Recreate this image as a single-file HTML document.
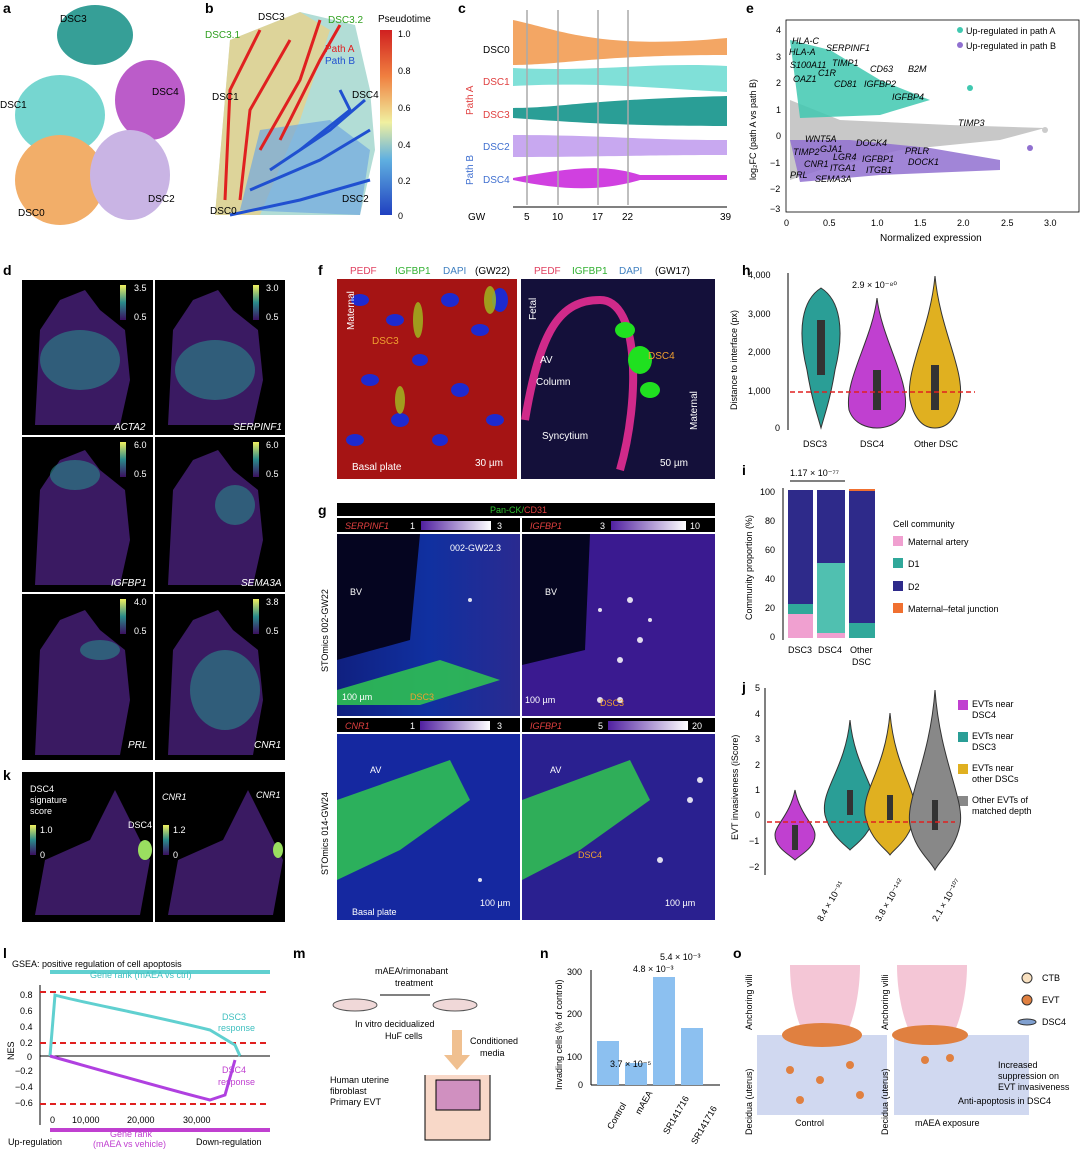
<!DOCTYPE html>
<html><head><meta charset="utf-8"><style>
body{margin:0;background:#fff;}
svg{display:block;font-family:"Liberation Sans",sans-serif;}
</style></head><body>
<svg width="1080" height="1150" viewBox="0 0 1080 1150" xmlns="http://www.w3.org/2000/svg">
<defs>
<linearGradient id="pt" x1="0" y1="1" x2="0" y2="0"><stop offset="0" stop-color="#2040c0"/><stop offset="0.3" stop-color="#60b0e0"/><stop offset="0.5" stop-color="#f0f0a0"/><stop offset="0.75" stop-color="#f08040"/><stop offset="1" stop-color="#d02020"/></linearGradient>
<linearGradient id="vir" x1="0" y1="1" x2="0" y2="0"><stop offset="0" stop-color="#3b1060"/><stop offset="0.5" stop-color="#2a8a8a"/><stop offset="1" stop-color="#f0f060"/></linearGradient>
<linearGradient id="pw" x1="0" x2="1"><stop offset="0" stop-color="#5020a0"/><stop offset="1" stop-color="#ffffff"/></linearGradient>
<linearGradient id="gs" x1="0" x2="1"><stop offset="0" stop-color="#102080"/><stop offset="0.5" stop-color="#1030a0"/><stop offset="1" stop-color="#2a2a90"/></linearGradient>
</defs>
<g font-weight="bold" font-size="14">
<text x="3" y="13">a</text><text x="205" y="13">b</text><text x="458" y="13">c</text><text x="746" y="13">e</text>
<text x="3" y="275">d</text><text x="318" y="275">f</text><text x="742" y="275">h</text>
<text x="318" y="515">g</text><text x="742" y="475">i</text><text x="742" y="692">j</text>
<text x="3" y="780">k</text><text x="3" y="958">l</text><text x="293" y="958">m</text><text x="540" y="958">n</text><text x="733" y="958">o</text>
</g>
<!-- panel a -->
<g opacity="0.85">
<ellipse cx="95" cy="35" rx="38" ry="30" fill="#138f86"/>
<ellipse cx="60" cy="115" rx="45" ry="40" fill="#5fd0c8"/>
<ellipse cx="150" cy="100" rx="35" ry="40" fill="#b040c0"/>
<ellipse cx="60" cy="180" rx="45" ry="45" fill="#f0a050"/>
<ellipse cx="130" cy="175" rx="40" ry="45" fill="#c0a8e0"/>
</g>
<g font-size="10"><text x="60" y="22">DSC3</text><text x="0" y="108">DSC1</text><text x="152" y="95">DSC4</text><text x="148" y="202">DSC2</text><text x="18" y="216">DSC0</text></g>
<!-- panel b -->
<path d="M215 215 L230 40 L300 12 L355 25 L370 90 L375 150 L360 215 Z" fill="#9fd4cc" opacity="0.8"/>
<path d="M215 215 L230 40 L300 12 L330 30 L300 120 L260 215 Z" fill="#f0d080" opacity="0.7"/>
<path d="M240 210 L260 130 L330 120 L370 150 L360 215 Z" fill="#70a8e0" opacity="0.7"/>
<g stroke="#e02020" stroke-width="3" fill="none"><path d="M225 200 L230 90 L260 30"/><path d="M240 200 L250 110 L290 40"/><path d="M260 150 L300 80 L320 20"/><path d="M280 140 L320 60 L340 25"/></g>
<g stroke="#2050d0" stroke-width="3" fill="none"><path d="M230 215 L300 200 L370 180"/><path d="M250 190 L320 160 L370 130"/><path d="M270 170 L330 130 L365 100"/><path d="M300 150 L350 110 L340 90"/></g>
<g font-size="10"><text x="258" y="20">DSC3</text><text x="205" y="38" fill="#30a020">DSC3.1</text><text x="328" y="23" fill="#30a020">DSC3.2</text><text x="325" y="52" fill="#e02020">Path A</text><text x="325" y="64" fill="#2050d0">Path B</text><text x="212" y="100">DSC1</text><text x="352" y="98">DSC4</text><text x="342" y="202">DSC2</text><text x="210" y="214">DSC0</text>
<text x="378" y="22">Pseudotime</text></g>
<rect x="380" y="30" width="12" height="185" fill="url(#pt)"/>
<g font-size="9"><text x="398" y="37">1.0</text><text x="398" y="74">0.8</text><text x="398" y="111">0.6</text><text x="398" y="148">0.4</text><text x="398" y="184">0.2</text><text x="398" y="219">0</text></g>
<!-- panel c -->
<g>
<path d="M513 20 C560 30 600 50 727 38 L727 55 C600 55 560 65 513 65 Z" fill="#f3a664"/>
<path d="M513 68 C600 72 650 62 727 66 L727 92 C650 88 600 82 513 86 Z" fill="#80e0d8"/>
<path d="M513 108 C560 108 580 100 727 96 L727 126 C620 126 570 122 513 118 Z" fill="#2a9e96"/>
<path d="M513 135 C600 135 640 140 727 140 L727 155 C640 155 600 157 513 157 Z" fill="#c8a8f0"/>
<path d="M513 178 C560 170 600 162 640 175 L727 175 L727 180 L640 180 C600 192 560 190 513 180 Z" fill="#d040e0"/>
</g>
<g stroke="#aaa" stroke-width="1.5"><line x1="527" y1="10" x2="527" y2="205"/><line x1="558" y1="10" x2="558" y2="205"/><line x1="598" y1="10" x2="598" y2="205"/><line x1="628" y1="10" x2="628" y2="205"/></g>
<line x1="513" y1="207" x2="727" y2="207" stroke="#000"/>
<g font-size="10"><text x="483" y="53">DSC0</text><text x="483" y="85" fill="#e04040">DSC1</text><text x="483" y="118" fill="#e04040">DSC3</text><text x="483" y="150" fill="#4070d0">DSC2</text><text x="483" y="183" fill="#4070d0">DSC4</text>
<text x="468" y="220">GW</text><text x="524" y="220">5</text><text x="552" y="220">10</text><text x="592" y="220">17</text><text x="622" y="220">22</text><text x="720" y="220">39</text>
<text transform="translate(473,115) rotate(-90)" fill="#e04040">Path A</text><text transform="translate(473,185) rotate(-90)" fill="#4070d0">Path B</text></g>
<!-- panel e -->
<rect x="786" y="20" width="293" height="192" fill="none" stroke="#000" stroke-width="0.8"/>
<path d="M790 100 L840 120 L950 125 L1045 128 L1000 140 L900 150 L820 170 L790 180 Z" fill="#c8c8c8"/>
<path d="M790 40 L830 50 L880 80 L930 100 L880 115 L800 118 Z" fill="#40c8b0" opacity="0.85"/>
<path d="M790 140 L850 140 L930 148 L1000 160 L1000 170 L880 175 L800 182 Z" fill="#9070d0" opacity="0.85"/>
<circle cx="970" cy="88" r="3" fill="#40c8b0"/><circle cx="1045" cy="130" r="3" fill="#ccc"/><circle cx="1030" cy="148" r="3" fill="#9070d0"/>
<g font-size="9" font-style="italic"><text x="792" y="44">HLA-C</text><text x="789" y="55">HLA-A</text><text x="826" y="51">SERPINF1</text><text x="790" y="68">S100A11</text><text x="832" y="66">TIMP1</text><text x="818" y="76">C1R</text><text x="870" y="72">CD63</text><text x="908" y="72">B2M</text><text x="793" y="82">OAZ1</text><text x="834" y="87">CD81</text><text x="864" y="87">IGFBP2</text><text x="892" y="100">IGFBP4</text><text x="958" y="126">TIMP3</text><text x="805" y="142">WNT5A</text><text x="856" y="146">DOCK4</text><text x="820" y="152">GJA1</text><text x="793" y="155">TIMP2</text><text x="833" y="160">LGR4</text><text x="862" y="162">IGFBP1</text><text x="905" y="154">PRLR</text><text x="908" y="165">DOCK1</text><text x="804" y="167">CNR1</text><text x="830" y="171">ITGA1</text><text x="866" y="173">ITGB1</text><text x="790" y="178">PRL</text><text x="815" y="182">SEMA3A</text></g>
<g font-size="9"><text x="776" y="33">4</text><text x="776" y="60">3</text><text x="776" y="86">2</text><text x="776" y="113">1</text><text x="776" y="139">0</text><text x="770" y="166">−1</text><text x="770" y="192">−2</text><text x="770" y="212">−3</text>
<text x="784" y="226">0</text><text x="823" y="226">0.5</text><text x="871" y="226">1.0</text><text x="914" y="226">1.5</text><text x="957" y="226">2.0</text><text x="1001" y="226">2.5</text><text x="1044" y="226">3.0</text>
<text x="880" y="241" font-size="10">Normalized expression</text>
<text transform="translate(756,180) rotate(-90)" font-size="9">log₂FC (path A vs path B)</text>
<circle cx="960" cy="30" r="3" fill="#40c8b0"/><text x="966" y="34">Up-regulated in path A</text>
<circle cx="960" cy="45" r="3" fill="#9070d0"/><text x="966" y="49">Up-regulated in path B</text></g>
<!-- panel d -->
<g>
<rect x="22" y="280" width="131" height="155" fill="#000"/><rect x="155" y="280" width="130" height="155" fill="#000"/>
<rect x="22" y="437" width="131" height="155" fill="#000"/><rect x="155" y="437" width="130" height="155" fill="#000"/>
<rect x="22" y="594" width="131" height="166" fill="#000"/><rect x="155" y="594" width="130" height="166" fill="#000"/>
<g fill="#3a1a62">
<path d="M35 425 L40 330 L60 300 L85 290 L100 310 L125 330 L130 380 L120 425 Z"/>
<path d="M168 425 L173 330 L193 300 L218 290 L233 310 L258 330 L263 380 L253 425 Z"/>
<path d="M35 585 L40 490 L60 460 L85 450 L100 470 L125 490 L130 540 L120 585 Z"/>
<path d="M168 585 L173 490 L193 460 L218 450 L233 470 L258 490 L263 540 L253 585 Z"/>
<path d="M35 755 L40 650 L60 620 L85 610 L100 630 L125 650 L130 700 L120 755 Z"/>
<path d="M168 755 L173 650 L193 620 L218 610 L233 630 L258 650 L263 700 L253 755 Z"/>
</g>
<g fill="#2a8a8a" opacity="0.6"><ellipse cx="80" cy="360" rx="40" ry="30"/><ellipse cx="215" cy="370" rx="40" ry="30"/><ellipse cx="75" cy="475" rx="25" ry="15"/><ellipse cx="235" cy="505" rx="20" ry="20"/><ellipse cx="100" cy="650" rx="20" ry="10"/><ellipse cx="225" cy="690" rx="35" ry="40"/></g>
<g><rect x="120" y="285" width="6" height="35" fill="url(#vir)"/><rect x="253" y="285" width="6" height="35" fill="url(#vir)"/><rect x="120" y="442" width="6" height="35" fill="url(#vir)"/><rect x="253" y="442" width="6" height="35" fill="url(#vir)"/><rect x="120" y="599" width="6" height="35" fill="url(#vir)"/><rect x="253" y="599" width="6" height="35" fill="url(#vir)"/></g>
<g fill="#fff" font-size="9"><text x="134" y="291">3.5</text><text x="134" y="320">0.5</text><text x="266" y="291">3.0</text><text x="266" y="320">0.5</text><text x="134" y="448">6.0</text><text x="134" y="477">0.5</text><text x="266" y="448">6.0</text><text x="266" y="477">0.5</text><text x="134" y="605">4.0</text><text x="134" y="634">0.5</text><text x="266" y="605">3.8</text><text x="266" y="634">0.5</text>
<g font-style="italic" font-size="10"><text x="114" y="430">ACTA2</text><text x="233" y="430">SERPINF1</text><text x="111" y="586">IGFBP1</text><text x="241" y="586">SEMA3A</text><text x="128" y="748">PRL</text><text x="254" y="748">CNR1</text></g></g>
</g>
<!-- panel k -->
<rect x="22" y="772" width="131" height="150" fill="#000"/><rect x="155" y="772" width="130" height="150" fill="#000"/>
<path d="M35 915 L45 860 L90 840 L115 790 L135 830 L150 860 L140 915 Z" fill="#3a1a62"/>
<path d="M168 915 L178 860 L223 840 L248 790 L268 830 L283 860 L273 915 Z" fill="#3a1a62"/>
<ellipse cx="145" cy="850" rx="7" ry="10" fill="#9adf60"/><ellipse cx="278" cy="850" rx="5" ry="8" fill="#9adf60"/>
<rect x="30" y="825" width="6" height="30" fill="url(#vir)"/><rect x="163" y="825" width="6" height="30" fill="url(#vir)"/>
<g fill="#fff" font-size="9"><text x="30" y="792">DSC4</text><text x="30" y="803">signature</text><text x="30" y="814">score</text><text x="40" y="833">1.0</text><text x="40" y="858">0</text><text x="128" y="828">DSC4</text><text x="162" y="800" font-style="italic">CNR1</text><text x="173" y="833">1.2</text><text x="173" y="858">0</text><text x="256" y="798" font-style="italic">CNR1</text></g>
<!-- panel f -->
<g font-size="10"><text x="350" y="274" fill="#e04060">PEDF</text><text x="395" y="274" fill="#30b030">IGFBP1</text><text x="443" y="274" fill="#4080c0">DAPI</text><text x="475" y="274">(GW22)</text>
<text x="534" y="274" fill="#e04060">PEDF</text><text x="572" y="274" fill="#30b030">IGFBP1</text><text x="619" y="274" fill="#4080c0">DAPI</text><text x="655" y="274">(GW17)</text></g>
<rect x="337" y="279" width="180" height="200" fill="#3a0808"/>
<g fill="#c01818" opacity="0.8"><rect x="337" y="279" width="180" height="200"/></g>
<g fill="#1e2ad0"><ellipse cx="360" cy="300" rx="9" ry="6"/><ellipse cx="395" cy="320" rx="9" ry="6"/><ellipse cx="450" cy="300" rx="9" ry="7"/><ellipse cx="480" cy="330" rx="9" ry="6"/><ellipse cx="370" cy="380" rx="9" ry="6"/><ellipse cx="420" cy="360" rx="8" ry="6"/><ellipse cx="460" cy="390" rx="9" ry="7"/><ellipse cx="495" cy="420" rx="9" ry="6"/><ellipse cx="400" cy="420" rx="9" ry="7"/><ellipse cx="440" cy="440" rx="8" ry="6"/><ellipse cx="500" cy="300" rx="8" ry="12"/><ellipse cx="355" cy="440" rx="9" ry="6"/></g>
<g fill="#a0c020" opacity="0.8"><ellipse cx="418" cy="320" rx="5" ry="18"/><ellipse cx="490" cy="300" rx="6" ry="14"/><ellipse cx="400" cy="400" rx="5" ry="14"/></g>
<rect x="521" y="279" width="194" height="200" fill="#14103a"/>
<path d="M525 420 C540 330 560 300 600 300 C640 300 640 400 620 470" fill="none" stroke="#d02a8a" stroke-width="8"/>
<g fill="#20e020"><ellipse cx="640" cy="360" rx="12" ry="14"/><ellipse cx="625" cy="330" rx="10" ry="8"/><ellipse cx="650" cy="390" rx="10" ry="8"/></g>
<g font-size="10" fill="#fff"><text x="352" y="470">Basal plate</text><text x="475" y="466">30 µm</text><text x="372" y="344" fill="#f0a030">DSC3</text><text x="540" y="363">AV</text><text x="536" y="385">Column</text><text x="542" y="439">Syncytium</text><text x="648" y="359" fill="#f0a030">DSC4</text><text x="660" y="466">50 µm</text>
<text transform="translate(354,330) rotate(-90)">Maternal</text><text transform="translate(536,320) rotate(-90)">Fetal</text><text transform="translate(697,430) rotate(-90)">Maternal</text></g>
<!-- panel g -->
<rect x="337" y="503" width="378" height="13" fill="#000"/>
<text x="490" y="513" font-size="9" fill="#30c030">Pan-CK/<tspan fill="#e04040">CD31</tspan></text>
<rect x="337" y="518" width="183" height="14" fill="#000"/><rect x="522" y="518" width="193" height="14" fill="#000"/>
<rect x="337" y="534" width="183" height="182" fill="url(#gs)"/><rect x="522" y="534" width="193" height="182" fill="#3a1a90"/>
<path d="M337 534 L420 534 L410 640 L337 660 Z" fill="#050520"/><path d="M522 534 L590 534 L585 650 L522 665 Z" fill="#050520"/>
<rect x="337" y="718" width="183" height="14" fill="#000"/><rect x="522" y="718" width="193" height="14" fill="#000"/>
<rect x="337" y="734" width="183" height="186" fill="#1528a0"/><rect x="522" y="734" width="193" height="186" fill="#2a2090"/>
<g fill="#30c850" opacity="0.85"><path d="M337 800 L450 760 L470 800 L400 850 L337 880 Z"/><path d="M522 800 L630 760 L650 800 L580 850 L522 880 Z"/><path d="M337 690 L440 660 L500 680 L420 705 L337 705 Z"/></g>
<g fill="#fff" opacity="0.85"><circle cx="470" cy="600" r="2"/><circle cx="600" cy="610" r="2"/><circle cx="630" cy="600" r="3"/><circle cx="640" cy="640" r="3"/><circle cx="620" cy="660" r="3"/><circle cx="650" cy="620" r="2"/><circle cx="600" cy="700" r="3"/><circle cx="620" cy="700" r="3"/><circle cx="690" cy="800" r="3"/><circle cx="700" cy="780" r="3"/><circle cx="660" cy="860" r="3"/><circle cx="480" cy="880" r="2"/></g>
<rect x="421" y="521" width="70" height="9" fill="url(#pw)"/><rect x="611" y="521" width="75" height="9" fill="url(#pw)"/><rect x="420" y="721" width="70" height="9" fill="url(#pw)"/><rect x="608" y="721" width="80" height="9" fill="url(#pw)"/>
<g font-size="9"><g fill="#e04040" font-style="italic"><text x="345" y="529">SERPINF1</text><text x="530" y="529">IGFBP1</text><text x="345" y="729">CNR1</text><text x="530" y="729">IGFBP1</text></g>
<g fill="#fff"><text x="410" y="529">1</text><text x="497" y="529">3</text><text x="600" y="529">3</text><text x="690" y="529">10</text><text x="410" y="729">1</text><text x="497" y="729">3</text><text x="598" y="729">5</text><text x="692" y="729">20</text>
<text x="450" y="551">002-GW22.3</text><text x="350" y="595">BV</text><text x="545" y="595">BV</text><text x="342" y="700">100 µm</text><text x="525" y="703">100 µm</text><text x="370" y="773">AV</text><text x="550" y="773">AV</text><text x="352" y="915">Basal plate</text><text x="480" y="906">100 µm</text><text x="665" y="906">100 µm</text></g>
<g fill="#f0a030"><text x="410" y="700">DSC3</text><text x="600" y="706">DSC3</text><text x="578" y="858">DSC4</text></g>
<text transform="translate(328,672) rotate(-90)">STOmics  002-GW22</text><text transform="translate(328,875) rotate(-90)">STOmics  014-GW24</text></g>
<!-- panel h -->
<line x1="788" y1="273" x2="788" y2="430" stroke="#000"/>
<g font-size="9"><text x="748" y="278">4,000</text><text x="748" y="317">3,000</text><text x="748" y="355">2,000</text><text x="748" y="394">1,000</text><text x="775" y="431">0</text><text x="803" y="447">DSC3</text><text x="860" y="447">DSC4</text><text x="914" y="447">Other DSC</text><text x="852" y="288">2.9 × 10⁻⁸⁰</text>
<text transform="translate(737,410) rotate(-90)">Distance to interface (px)</text></g>
<path d="M821 288 C840 300 845 330 835 370 C830 400 826 410 821 428 C816 410 812 400 807 370 C797 330 802 300 821 288Z" fill="#2a9e96" stroke="#333"/>
<path d="M877 298 C882 340 910 380 905 410 C900 425 885 428 877 428 C869 428 854 425 849 410 C844 380 872 340 877 298Z" fill="#c040d0" stroke="#333"/>
<path d="M935 276 C940 330 965 370 960 400 C955 422 945 428 935 428 C925 428 915 422 910 400 C905 370 930 330 935 276Z" fill="#e0b020" stroke="#333"/>
<g fill="#333"><rect x="817" y="320" width="8" height="55"/><rect x="873" y="370" width="8" height="40"/><rect x="931" y="365" width="8" height="45"/></g>
<line x1="790" y1="392" x2="975" y2="392" stroke="#e02020" stroke-dasharray="5,3" stroke-width="1.5"/>
<!-- panel i -->
<line x1="783" y1="488" x2="783" y2="640" stroke="#000"/>
<rect x="788" y="490" width="25" height="114" fill="#2e2a8a"/><rect x="788" y="604" width="25" height="10" fill="#30a89a"/><rect x="788" y="614" width="25" height="24" fill="#f0a0d0"/>
<rect x="817" y="490" width="28" height="73" fill="#2e2a8a"/><rect x="817" y="563" width="28" height="70" fill="#50c0b0"/><rect x="817" y="633" width="28" height="5" fill="#f0a0d0"/>
<rect x="849" y="491" width="26" height="132" fill="#2e2a8a"/><rect x="849" y="623" width="26" height="15" fill="#30a89a"/><rect x="849" y="489" width="26" height="2" fill="#f07030"/>
<line x1="790" y1="481" x2="845" y2="481" stroke="#000"/>
<g font-size="9"><text x="790" y="476">1.17 × 10⁻⁷⁷</text><text x="760" y="495">100</text><text x="765" y="524">80</text><text x="765" y="553">60</text><text x="765" y="582">40</text><text x="765" y="611">20</text><text x="770" y="640">0</text>
<text x="788" y="653">DSC3</text><text x="818" y="653">DSC4</text><text x="850" y="653">Other</text><text x="852" y="665">DSC</text>
<text transform="translate(752,620) rotate(-90)">Community proportion (%)</text>
<text x="893" y="527">Cell community</text><rect x="893" y="536" width="10" height="10" fill="#f0a0d0"/><text x="908" y="545">Maternal artery</text><rect x="893" y="558" width="10" height="10" fill="#30a89a"/><text x="908" y="567">D1</text><rect x="893" y="581" width="10" height="10" fill="#2e2a8a"/><text x="908" y="590">D2</text><rect x="893" y="603" width="10" height="10" fill="#f07030"/><text x="908" y="612">Maternal–fetal junction</text></g>
<!-- panel j -->
<line x1="765" y1="688" x2="765" y2="875" stroke="#000"/>
<g font-size="9"><text x="755" y="691">5</text><text x="755" y="717">4</text><text x="755" y="742">3</text><text x="755" y="768">2</text><text x="755" y="793">1</text><text x="755" y="818">0</text><text x="749" y="844">−1</text><text x="749" y="870">−2</text>
<text transform="translate(738,840) rotate(-90)">EVT invasiveness (iScore)</text>
<text transform="translate(822,922) rotate(-60)">8.4 × 10⁻⁹¹</text><text transform="translate(880,922) rotate(-60)">3.8 × 10⁻¹⁴²</text><text transform="translate(937,922) rotate(-60)">2.1 × 10⁻¹⁰⁷</text>
<rect x="958" y="700" width="10" height="10" fill="#c040d0"/><text x="972" y="707">EVTs near</text><text x="972" y="718">DSC4</text>
<rect x="958" y="732" width="10" height="10" fill="#2a9e96"/><text x="972" y="739">EVTs near</text><text x="972" y="750">DSC3</text>
<rect x="958" y="764" width="10" height="10" fill="#e0b020"/><text x="972" y="771">EVTs near</text><text x="972" y="782">other DSCs</text>
<rect x="958" y="796" width="10" height="10" fill="#888"/><text x="972" y="803">Other EVTs of</text><text x="972" y="814">matched depth</text></g>
<path d="M795 790 C800 815 815 825 815 835 C815 848 800 855 795 860 C790 855 775 848 775 835 C775 825 790 815 795 790Z" fill="#c040d0" stroke="#333"/>
<path d="M850 720 C855 770 880 790 875 815 C870 835 855 845 850 850 C845 845 830 835 825 815 C820 790 845 770 850 720Z" fill="#2a9e96" stroke="#333"/>
<path d="M890 713 C895 770 918 790 915 815 C910 840 895 848 890 855 C885 848 870 840 865 815 C862 790 885 770 890 713Z" fill="#e0b020" stroke="#333"/>
<path d="M935 690 C940 760 965 800 960 825 C955 850 940 860 935 870 C930 860 915 850 910 825 C905 800 930 760 935 690Z" fill="#888" stroke="#333"/>
<g fill="#333"><rect x="792" y="825" width="6" height="25"/><rect x="847" y="790" width="6" height="25"/><rect x="887" y="795" width="6" height="25"/><rect x="932" y="800" width="6" height="30"/></g>
<line x1="767" y1="822" x2="955" y2="822" stroke="#e02020" stroke-dasharray="5,3" stroke-width="1.5"/>
<!-- panel l -->
<g font-size="9"><text x="12" y="967">GSEA: positive regulation of cell apoptosis</text>
<rect x="50" y="970" width="220" height="4" fill="#60d0d0"/><text x="90" y="978" fill="#40c0c0">Gene rank (mAEA vs ctrl)</text>
<line x1="40" y1="985" x2="40" y2="1125" stroke="#000"/><line x1="40" y1="1056" x2="270" y2="1056" stroke="#000"/>
<text x="20" y="998">0.8</text><text x="20" y="1014">0.6</text><text x="20" y="1030">0.4</text><text x="20" y="1046">0.2</text><text x="27" y="1060">0</text><text x="15" y="1074">−0.2</text><text x="15" y="1090">−0.4</text><text x="15" y="1106">−0.6</text>
<text transform="translate(14,1060) rotate(-90)">NES</text>
<text x="50" y="1123">0</text><text x="72" y="1123">10,000</text><text x="127" y="1123">20,000</text><text x="183" y="1123">30,000</text>
<rect x="50" y="1128" width="220" height="4" fill="#c040d0"/><text x="110" y="1137" fill="#c040d0">Gene rank</text><text x="93" y="1147" fill="#c040d0">(mAEA vs vehicle)</text>
<text x="8" y="1145">Up-regulation</text><text x="196" y="1145">Down-regulation</text>
<text x="222" y="1020" fill="#40c0c0">DSC3</text><text x="218" y="1031" fill="#40c0c0">response</text><text x="222" y="1073" fill="#c040d0">DSC4</text><text x="218" y="1085" fill="#c040d0">response</text></g>
<line x1="40" y1="992" x2="270" y2="992" stroke="#e02020" stroke-dasharray="6,4" stroke-width="2"/><line x1="40" y1="1043" x2="270" y2="1043" stroke="#e02020" stroke-dasharray="6,4" stroke-width="2"/><line x1="40" y1="1104" x2="270" y2="1104" stroke="#e02020" stroke-dasharray="6,4" stroke-width="2"/>
<path d="M50 1056 L55 995 C70 1000 150 1015 210 1030 L235 1045 L240 1056" fill="none" stroke="#60d0d0" stroke-width="3"/>
<path d="M50 1056 C100 1070 170 1090 210 1100 L225 1095 L235 1060" fill="none" stroke="#b040e0" stroke-width="3"/>
<!-- panel m -->
<g font-size="9"><text x="375" y="974">mAEA/rimonabant</text><text x="395" y="986">treatment</text><text x="355" y="1027">In vitro decidualized</text><text x="385" y="1039">HuF cells</text><text x="470" y="1044">Conditioned</text><text x="480" y="1056">media</text>
<text x="330" y="1083">Human uterine</text><text x="330" y="1094">fibroblast</text><text x="330" y="1105">Primary EVT</text></g>
<ellipse cx="355" cy="1005" rx="22" ry="6" fill="#f0d8d8" stroke="#555"/><ellipse cx="455" cy="1005" rx="22" ry="6" fill="#f0d8d8" stroke="#555"/>
<line x1="380" y1="995" x2="430" y2="995" stroke="#000"/>
<path d="M452 1030 L462 1030 L462 1055 L470 1055 L457 1070 L444 1055 L452 1055Z" fill="#f0c090"/>
<path d="M425 1075 L425 1140 L490 1140 L490 1075" fill="#f8d8c8" stroke="#000"/>
<rect x="436" y="1080" width="44" height="30" fill="#d090c0" stroke="#000"/>
<!-- panel n -->
<line x1="591" y1="970" x2="591" y2="1085" stroke="#000"/><line x1="591" y1="1085" x2="720" y2="1085" stroke="#000"/>
<g fill="#8cc0f0"><rect x="597" y="1041" width="22" height="44"/><rect x="625" y="1063" width="22" height="22"/><rect x="653" y="977" width="22" height="108"/><rect x="681" y="1028" width="22" height="57"/></g>
<g font-size="9"><text x="567" y="975">300</text><text x="567" y="1017">200</text><text x="567" y="1060">100</text><text x="578" y="1088">0</text>
<text transform="translate(562,1090) rotate(-90)">Invading cells (% of control)</text>
<text x="610" y="1067">3.7 × 10⁻⁵</text><text x="633" y="972">4.8 × 10⁻³</text><text x="660" y="960">5.4 × 10⁻³</text>
<text transform="translate(612,1130) rotate(-60)">Control</text><text transform="translate(640,1115) rotate(-60)">mAEA</text><text transform="translate(668,1135) rotate(-60)">SR141716</text><text transform="translate(696,1145) rotate(-60)">SR141716</text></g>
<!-- panel o -->
<rect x="757" y="965" width="130" height="70" fill="#fff"/>
<path d="M790 965 C790 1000 800 1030 805 1035 L845 1035 C850 1030 860 1000 860 965" fill="#f4c6d6"/>
<path d="M897 965 C897 1000 907 1030 912 1035 L952 1035 C957 1030 967 1000 967 965" fill="#f4c6d6"/>
<rect x="757" y="1035" width="130" height="80" fill="#d0d8f0"/><rect x="894" y="1035" width="135" height="80" fill="#d0d8f0"/>
<g fill="#e08040"><ellipse cx="822" cy="1035" rx="40" ry="12"/><ellipse cx="930" cy="1035" rx="38" ry="10"/><circle cx="790" cy="1070" r="4"/><circle cx="820" cy="1080" r="4"/><circle cx="850" cy="1065" r="4"/><circle cx="800" cy="1100" r="4"/><circle cx="860" cy="1095" r="4"/><circle cx="925" cy="1060" r="4"/><circle cx="950" cy="1058" r="4"/></g>
<g font-size="9"><text transform="translate(752,1030) rotate(-90)">Anchoring villi</text><text transform="translate(752,1135) rotate(-90)">Decidua (uterus)</text><text transform="translate(888,1030) rotate(-90)">Anchoring villi</text><text transform="translate(888,1135) rotate(-90)">Decidua (uterus)</text>
<text x="795" y="1126">Control</text><text x="915" y="1126">mAEA exposure</text>
<circle cx="1027" cy="978" r="5" fill="#f8e0c0" stroke="#333"/><text x="1042" y="981">CTB</text><circle cx="1027" cy="1000" r="5" fill="#e08040" stroke="#333"/><text x="1042" y="1003">EVT</text><ellipse cx="1027" cy="1022" rx="9" ry="3" fill="#80a0d0" stroke="#333"/><text x="1042" y="1025">DSC4</text>
<text x="998" y="1068">Increased</text><text x="998" y="1079">suppression on</text><text x="998" y="1090">EVT invasiveness</text><text x="958" y="1104">Anti-apoptosis in DSC4</text></g>
</svg>
</body></html>
